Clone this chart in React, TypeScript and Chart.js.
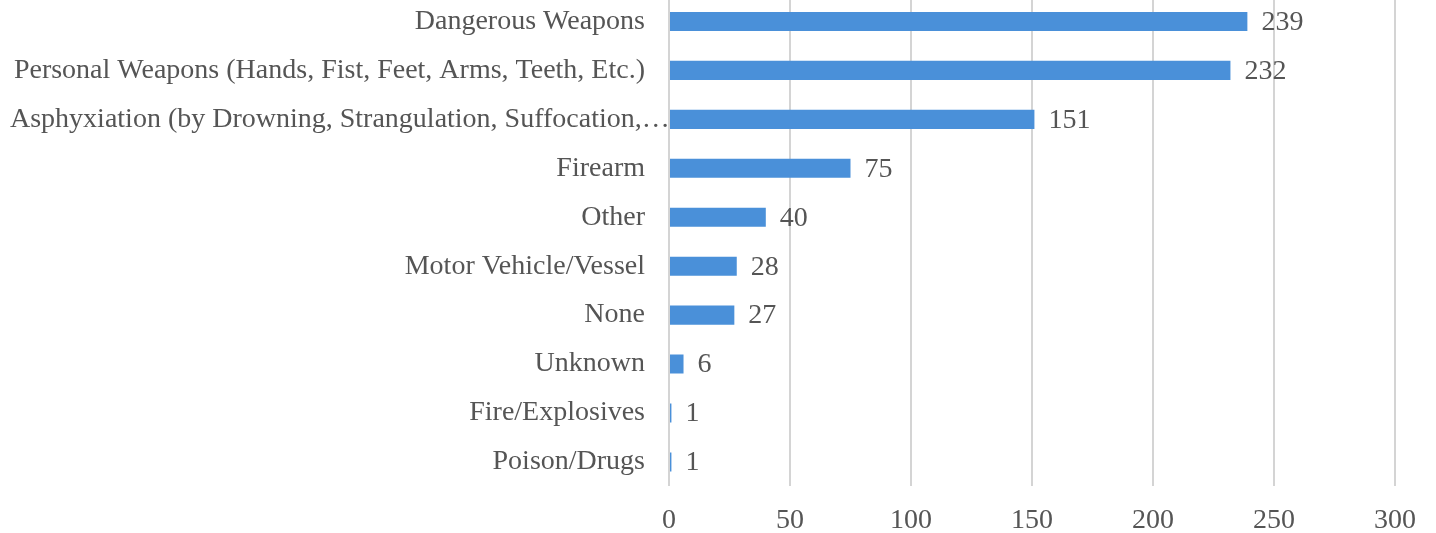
import React, { useEffect, useRef } from "react";
import { Chart, registerables } from "chart.js";

Chart.register(...registerables);

const categories = [
  "Dangerous Weapons",
  "Personal Weapons (Hands, Fist, Feet, Arms, Teeth, Etc.)",
  "Asphyxiation (by Drowning, Strangulation, Suffocation,…",
  "Firearm",
  "Other",
  "Motor Vehicle/Vessel",
  "None",
  "Unknown",
  "Fire/Explosives",
  "Poison/Drugs",
];
const counts = [239, 232, 151, 75, 40, 28, 27, 6, 1, 1];
const xTickMin = 0;
const xTickMax = 300;
const xTickStep = 50;

const FONT = "'Liberation Serif', 'Times New Roman', serif";
const TEXT_COLOR = "#555555";
const FONT_SIZE = 28;

const labelsPlugin = {
  id: "customLabels",
  afterDraw(chart: any) {
    const ctx = chart.ctx;
    const yScale = chart.scales.y;
    const area = chart.chartArea;
    const meta = chart.getDatasetMeta(0);
    ctx.save();
    ctx.font = `${FONT_SIZE}px ${FONT}`;
    ctx.fillStyle = TEXT_COLOR;
    ctx.textBaseline = "middle";
    categories.forEach((cat, i) => {
      const y = yScale.getPixelForValue(i);
      const w = ctx.measureText(cat).width;
      const rightEdge = area.left - 24;
      const minLeft = 10;
      if (rightEdge - w < minLeft) {
        ctx.textAlign = "left";
        ctx.fillText(cat, minLeft, y);
      } else {
        ctx.textAlign = "right";
        ctx.fillText(cat, rightEdge, y);
      }
    });
    ctx.textAlign = "left";
    meta.data.forEach((bar: any, i: number) => {
      ctx.fillText(String(counts[i]), bar.x + 14, bar.y + 1);
    });
    ctx.restore();
  },
};

export default function App() {
  const canvasRef = useRef<HTMLCanvasElement>(null);
  useEffect(() => {
    if (!canvasRef.current) return;
    const chart = new Chart(canvasRef.current, {
      type: "bar",
      data: {
        labels: categories,
        datasets: [
          {
            data: counts,
            backgroundColor: "#4a90d9",
            categoryPercentage: 1,
            barPercentage: 0.39,
          },
        ],
      },
      options: {
        indexAxis: "y",
        animation: false,
        responsive: true,
        maintainAspectRatio: false,
        layout: { padding: { left: 669, right: 41, top: 0, bottom: 0 } },
        plugins: {
          legend: { display: false },
          tooltip: { enabled: false },
        },
        scales: {
          y: {
            display: false,
          },
          x: {
            min: xTickMin,
            max: xTickMax,
            border: { display: false },
            grid: { color: "#d4d4d4", lineWidth: 2, drawTicks: false },
            ticks: {
              stepSize: xTickStep,
              padding: 17,
              color: TEXT_COLOR,
              font: { family: FONT, size: FONT_SIZE },
            },
          },
        },
      },
      plugins: [labelsPlugin],
    });
    return () => chart.destroy();
  }, []);
  return (
    <div style={{ position: "absolute", left: 0, top: -3, width: 1436, height: 557, background: "#fff" }}>
      <canvas ref={canvasRef} />
    </div>
  );
}
